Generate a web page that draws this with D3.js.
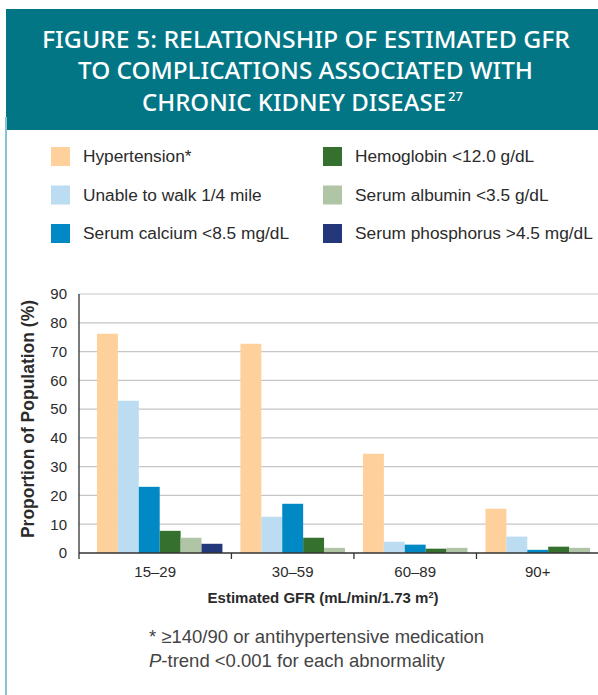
<!DOCTYPE html>
<html>
<head>
<meta charset="utf-8">
<script src="https://cdn.jsdelivr.net/npm/d3@7/dist/d3.min.js"></script>
<style>
  html, body { margin: 0; padding: 0; background: #fff; }
  svg { display: block; }
</style>
</head>
<body>
<svg id="chart" width="598" height="695"></svg>
<script>
const categories = ["15\u201329", "30\u201359", "60\u201389", "90+"]
const seriesNames = ["Hypertension*", "Unable to walk 1/4 mile", "Serum calcium <8.5 mg/dL",
  "Hemoglobin <12.0 g/dL", "Serum albumin <3.5 g/dL", "Serum phosphorus >4.5 mg/dL"]
const seriesColors = ["#fdd09c", "#bcdcf2", "#0089c5", "#35702f", "#afc5a5", "#23377a"]
const hypertension = [76.2, 72.7, 34.5, 15.4]
const unableToWalk = [52.9, 12.6, 3.9, 5.7]
const serumCalcium = [23.0, 17.1, 2.9, 1.1]
const hemoglobin = [7.7, 5.3, 1.5, 2.2]
const serumAlbumin = [5.3, 1.8, 1.8, 1.8]
const serumPhosphorus = [3.2, null, null, null]
const yTicks = [0, 10, 20, 30, 40, 50, 60, 70, 80, 90]

const seriesValues = [hypertension, unableToWalk, serumCalcium, hemoglobin, serumAlbumin, serumPhosphorus]

const width = 598
const height = 695
const teal = "#037686"
const textColor = "#2b2b2b"
const fontFamily = "'Liberation Sans', Arial, Helvetica, sans-serif"

const svg = d3.select("#chart")

svg.append("rect").attr("width", width).attr("height", height).attr("fill", "#fff")

// header band
svg.append("rect")
  .attr("x", 6).attr("y", 9)
  .attr("width", width - 6).attr("height", 121)
  .attr("fill", teal)

svg.append("line")
  .attr("x1", 6).attr("x2", 6)
  .attr("y1", 117).attr("y2", height)
  .attr("stroke", "#86c4d0").attr("stroke-width", 2)

const titleLines = [
  {text: "FIGURE 5: RELATIONSHIP OF ESTIMATED GFR", x: 42, y: 48, len: 528},
  {text: "TO COMPLICATIONS ASSOCIATED WITH", x: 78, y: 79, len: 455},
  {text: "CHRONIC KIDNEY DISEASE", x: 142, y: 111, len: 304}
]

svg.append("g").selectAll("text")
  .data(titleLines)
  .join("text")
  .attr("x", d => d.x)
  .attr("y", d => d.y)
  .attr("textLength", d => d.len)
  .attr("lengthAdjust", "spacingAndGlyphs")
  .attr("fill", "#fff")
  .attr("font-family", "'Noto Sans', 'Open Sans', sans-serif")
  .attr("font-weight", 500)
  .attr("font-size", 23.5)
  .text(d => d.text)

svg.append("text")
  .attr("x", 448).attr("y", 101)
  .attr("fill", "#fff")
  .attr("font-family", "'Noto Sans', 'Open Sans', sans-serif")
  .attr("font-weight", 500)
  .attr("font-size", 13)
  .text("27")

// legend
const legend = svg.append("g")
  .selectAll("g")
  .data(seriesNames)
  .join("g")
  .attr("transform", (d, i) => `translate(${i < 3 ? 51 : 323},${147 + (i % 3) * 38.5})`)

legend.append("rect")
  .attr("width", 19).attr("height", 19)
  .attr("fill", (d, i) => seriesColors[i])

legend.append("text")
  .attr("x", 32).attr("y", 15)
  .attr("fill", textColor)
  .attr("font-family", fontFamily)
  .attr("font-size", 17.3)
  .text(d => d)

// chart
const left = 79
const right = 599
const y = d3.scaleLinear().domain([0, 90]).range([553, 294])

const outerPad = 0.43
const groupPad = 0.43
const groups = categories.map((c, gi) => ({
  category: c,
  bars: seriesValues.map((vals, si) => ({series: si, value: vals[gi]})).filter(b => b.value != null)
}))
let cursor = 0
groups.forEach((g, gi) => {
  g.start = cursor
  g.barStart = cursor + (gi === 0 ? outerPad : 0) + groupPad
  cursor = g.barStart + g.bars.length + groupPad
  g.end = cursor
})
const x = d3.scaleLinear().domain([0, cursor]).range([left, right])

svg.append("g").selectAll("line")
  .data(yTicks.filter(t => t > 0))
  .join("line")
  .attr("x1", left).attr("x2", width)
  .attr("y1", d => y(d)).attr("y2", d => y(d))
  .attr("stroke", "#c6c6c6").attr("stroke-width", 1.2)

const yAxis = svg.append("g")
  .attr("transform", `translate(${left},0)`)
  .call(d3.axisLeft(y).tickValues(yTicks).tickSize(0).tickPadding(12))
yAxis.select(".domain").remove()
yAxis.selectAll("text")
  .attr("fill", textColor)
  .attr("font-family", fontFamily)
  .attr("font-size", 15)

const groupSel = svg.append("g").selectAll("g")
  .data(groups)
  .join("g")

groupSel.selectAll("rect")
  .data(g => g.bars.map((b, i) => ({...b, slot: g.barStart + i})))
  .join("rect")
  .attr("x", d => x(d.slot))
  .attr("width", d => x(d.slot + 1) - x(d.slot))
  .attr("y", d => y(d.value))
  .attr("height", d => y(0) - y(d.value))
  .attr("fill", d => seriesColors[d.series])

// axis lines
svg.append("line")
  .attr("x1", left).attr("x2", left)
  .attr("y1", y(90)).attr("y2", y(0) + 6)
  .attr("stroke", "#333").attr("stroke-width", 1.3)

svg.append("line")
  .attr("x1", left).attr("x2", width)
  .attr("y1", y(0)).attr("y2", y(0))
  .attr("stroke", "#333").attr("stroke-width", 1.3)

svg.append("g").selectAll("line")
  .data(groups.slice(1))
  .join("line")
  .attr("x1", d => x(d.start)).attr("x2", d => x(d.start))
  .attr("y1", y(0)).attr("y2", y(0) + 6)
  .attr("stroke", "#333").attr("stroke-width", 1.3)

svg.append("g").selectAll("text")
  .data(groups)
  .join("text")
  .attr("x", d => (x(d.start) + x(d.end)) / 2)
  .attr("y", 577)
  .attr("text-anchor", "middle")
  .attr("fill", textColor)
  .attr("font-family", fontFamily)
  .attr("font-size", 15)
  .text(d => d.category)

const xTitle = svg.append("text")
  .attr("x", 323).attr("y", 603)
  .attr("text-anchor", "middle")
  .attr("fill", textColor)
  .attr("font-family", fontFamily)
  .attr("font-weight", "bold")
  .attr("font-size", 15)
xTitle.append("tspan").text("Estimated GFR (mL/min/1.73 m")
xTitle.append("tspan").attr("dy", -5).attr("font-size", 9).text("2")
xTitle.append("tspan").attr("dy", 5).text(")")

svg.append("text")
  .attr("transform", "translate(34,419) rotate(-90)")
  .attr("text-anchor", "middle")
  .attr("fill", textColor)
  .attr("font-family", fontFamily)
  .attr("font-weight", "bold")
  .attr("font-size", 17.5)
  .text("Proportion of Population (%)")

// footnotes
svg.append("text")
  .attr("x", 149).attr("y", 643)
  .attr("fill", "#444")
  .attr("font-family", fontFamily)
  .attr("font-size", 18.5)
  .text("* \u2265140/90 or antihypertensive medication")

const note2 = svg.append("text")
  .attr("x", 149).attr("y", 667)
  .attr("fill", "#444")
  .attr("font-family", fontFamily)
  .attr("font-size", 18.5)
note2.append("tspan").attr("font-style", "italic").text("P")
note2.append("tspan").text("-trend <0.001 for each abnormality")
</script>
</body>
</html>
